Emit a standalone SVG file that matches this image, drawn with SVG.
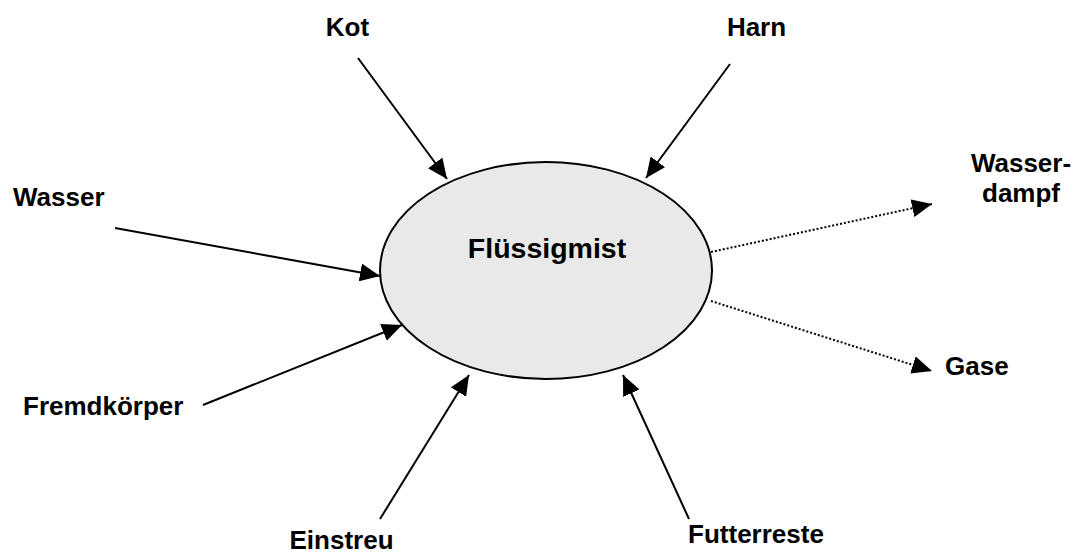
<svg xmlns="http://www.w3.org/2000/svg" width="1078" height="556" viewBox="0 0 1078 556">
  <style>
    .lbl { font-family: "Liberation Sans", Arial, sans-serif; font-weight: bold; font-size: 26px; fill: #000; }
    .title { font-family: "Liberation Sans", Arial, sans-serif; font-weight: bold; font-size: 28.5px; fill: #000; }
    .solid { stroke: #000; stroke-width: 2; fill: none; marker-end: url(#ah); }
    .dotted { stroke: #000; stroke-width: 2; fill: none; stroke-dasharray: 2 2; marker-end: url(#ah); }
  </style>
  <defs>
    <marker id="ah" viewBox="0 0 20 18" refX="20" refY="9" markerWidth="20" markerHeight="18" markerUnits="userSpaceOnUse" orient="auto">
      <path d="M0,0 L20,9 L0,18 z" fill="#000"/>
    </marker>
  </defs>
  <rect width="1078" height="556" fill="#fff"/>

  <g id="connectors">
    <line class="solid" x1="358" y1="58" x2="447" y2="179"/>
    <line class="solid" x1="730" y1="64" x2="646" y2="178"/>
    <line class="solid" x1="115" y1="228" x2="380" y2="276"/>
    <line class="solid" x1="203" y1="405" x2="402" y2="325"/>
    <line class="solid" x1="380" y1="519" x2="469" y2="375"/>
    <line class="solid" x1="689" y1="519" x2="623" y2="375"/>
    <line class="dotted" x1="711" y1="252" x2="932" y2="204"/>
    <line class="dotted" x1="711" y1="301" x2="932" y2="371"/>
  </g>

  <g id="node-fluessigmist">
    <ellipse cx="546" cy="270.5" rx="166" ry="108.5" fill="#e9e9e9" stroke="#000" stroke-width="2"/>
    <text class="title" x="547" y="258" text-anchor="middle">Flüssigmist</text>
  </g>
  <g id="node-kot"><text class="lbl" x="347.5" y="36" text-anchor="middle">Kot</text></g>
  <g id="node-harn"><text class="lbl" x="756.5" y="36" text-anchor="middle">Harn</text></g>
  <g id="node-wasser"><text class="lbl" x="13" y="206">Wasser</text></g>
  <g id="node-fremdkoerper"><text class="lbl" x="23" y="415">Fremdkörper</text></g>
  <g id="node-einstreu"><text class="lbl" x="341.5" y="549" text-anchor="middle">Einstreu</text></g>
  <g id="node-futterreste"><text class="lbl" x="756" y="543" text-anchor="middle">Futterreste</text></g>
  <g id="node-wasserdampf">
    <text class="lbl" x="1021" y="172" text-anchor="middle">Wasser-</text>
    <text class="lbl" x="1021" y="202" text-anchor="middle">dampf</text>
  </g>
  <g id="node-gase"><text class="lbl" x="945" y="375">Gase</text></g>
</svg>
